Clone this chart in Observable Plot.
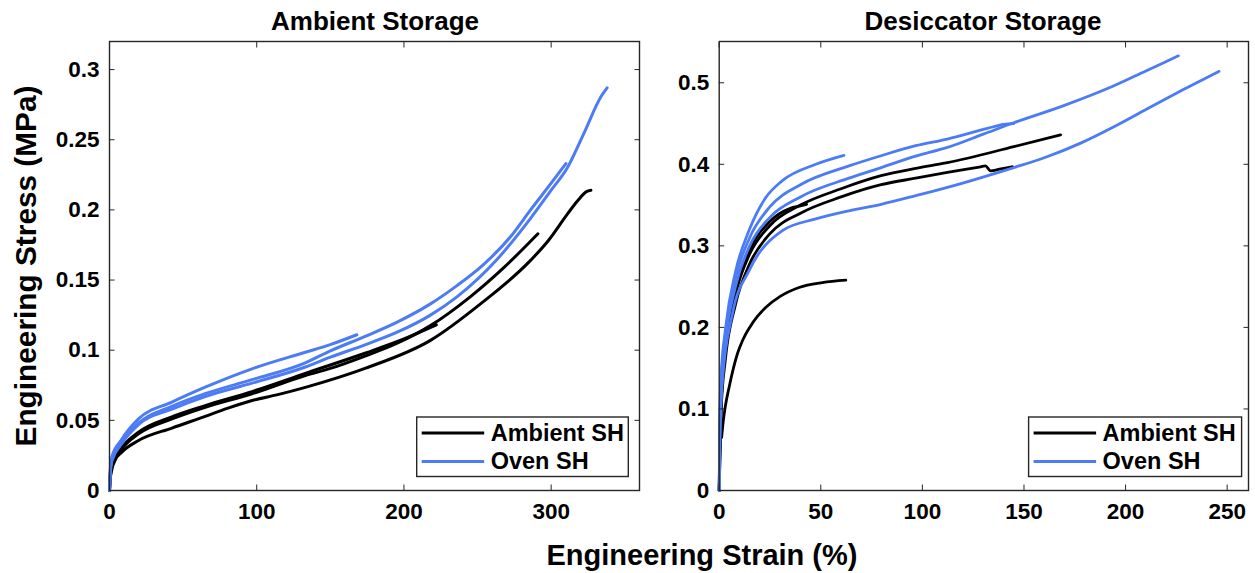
<!DOCTYPE html>
<html><head><meta charset="utf-8">
<script src="https://cdn.jsdelivr.net/npm/d3@7"></script>
<script src="https://cdn.jsdelivr.net/npm/@observablehq/plot@0.6"></script>
<style>
body{margin:0;background:#fff;}
#wrap{position:relative;width:1255px;height:573px;overflow:hidden;font-family:"Liberation Sans",Arial,sans-serif;}
#left{position:absolute;left:0;top:0;}
#right{position:absolute;left:640px;top:0;}
#overlay{position:absolute;left:0;top:0;}
</style></head><body>
<div id="wrap"><div id="left"></div><div id="right"></div><svg id="overlay" width="1255" height="573"></svg></div>
<script>
// ---------- DATA (strain %, stress MPa) ----------
const seriesNames = ["Ambient SH", "Oven SH"];
const seriesColors = ["#000000", "#4b7bf5"];
const panelTitles = ["Ambient Storage", "Desiccator Storage"];
const xTitle = "Engineering Strain (%)";
const yTitle = "Engineering Stress (MPa)";

// Ambient storage panel
const ambTicksX = [0, 100, 200, 300];
const ambTicksY = [0, 0.05, 0.1, 0.15, 0.2, 0.25, 0.3];
const ambBlack1 = [[0,0],[0.4,0.007],[1.6,0.015],[4,0.022],[8,0.027],[19.7,0.0356],[42.4,0.0445],[65,0.0528],[80,0.0585],[96.8,0.0641],[115,0.0685],[133,0.0735],[174,0.0872],[218,0.107],[252,0.133],[286,0.164],[298,0.178],[311,0.197],[318,0.2065],[324,0.213],[327,0.214]];
const ambBlack2 = [[0,0],[0.4,0.008],[1.6,0.017],[8,0.029],[19.7,0.0404],[42.4,0.051],[65,0.0593],[96.8,0.0689],[133,0.0819],[150,0.087],[174,0.096],[195.4,0.105],[218,0.1175],[245,0.138],[268,0.159],[291,0.183]];
const ambBlack3 = [[0,0],[0.4,0.009],[1.6,0.018],[8,0.030],[19.7,0.0415],[42.4,0.0525],[65,0.0605],[96.8,0.0705],[133,0.0835],[174,0.098],[200,0.108],[222,0.118]];
const ambBlue1 = [[0,0],[0.4,0.010],[1.6,0.021],[8,0.033],[19.7,0.047],[42.4,0.058],[65,0.067],[96.8,0.0765],[133,0.088],[150,0.095],[174,0.104],[195.4,0.1128],[218,0.125],[236,0.138],[263.5,0.165],[286,0.194],[300,0.214],[311,0.230],[322,0.254],[334,0.281],[338,0.287]];
const ambBlue2 = [[0,0],[0.4,0.011],[1.6,0.022],[8,0.034],[19.7,0.048],[42.4,0.060],[65,0.069],[96.8,0.079],[133,0.091],[150,0.0995],[174,0.110],[195.4,0.120],[218,0.133],[236,0.146],[254,0.161],[272.5,0.181],[286,0.200],[300,0.219],[310,0.233]];
const ambBlue3 = [[0,0],[0.4,0.012],[1.6,0.024],[8,0.036],[19.7,0.051],[42.4,0.063],[65,0.0736],[96.8,0.0867],[133,0.0985],[150,0.104],[168,0.111]];

// Desiccator storage panel
const desTicksX = [0, 50, 100, 150, 200, 250];
const desTicksY = [0, 0.1, 0.2, 0.3, 0.4, 0.5];
const desBlack1 = [[0,0],[0.3,0.06],[1,0.11],[3,0.17],[8,0.24],[15,0.29],[25,0.325],[40,0.350],[60,0.370],[79.7,0.386],[96.7,0.395],[112.3,0.402],[145,0.4216],[168,0.436]];
const desBlack2 = [[0,0],[1,0.10],[3,0.16],[8,0.228],[15,0.278],[25,0.315],[40,0.340],[60,0.360],[79.7,0.375],[96.7,0.383],[112.3,0.390],[128.7,0.397],[131,0.398],[133.6,0.392],[138,0.394],[144.3,0.397]];
const desBlack3 = [[0,0],[1,0.11],[3,0.175],[8,0.245],[15,0.295],[25,0.33],[35,0.346],[40,0.349],[43,0.351]];
const desBlack4 = [[1.2,0.065],[2,0.085],[3,0.103],[4.9,0.127],[7,0.150],[9,0.168],[11.5,0.184],[15,0.200],[19,0.214],[23,0.2246],[30,0.238],[39.3,0.249],[50.8,0.255],[62.3,0.258]];
const desBlue1 = [[0,0],[0.3,0.09],[0.8,0.135],[3.2,0.20],[8.2,0.27],[14.7,0.319],[23,0.3595],[31.1,0.380],[47.5,0.400],[61.4,0.411]];
const desBlue2 = [[0,0],[0.3,0.08],[1,0.13],[3,0.19],[8,0.26],[15,0.31],[25,0.348],[40,0.375],[63.9,0.398],[79.7,0.4105],[96.7,0.4228],[112.3,0.431],[132,0.444],[140,0.449],[145,0.450]];
const desBlue3 = [[0,0],[0.3,0.07],[1,0.12],[3,0.18],[8,0.25],[15,0.30],[25,0.335],[40,0.36],[63.9,0.383],[79.7,0.396],[96.7,0.41],[112.3,0.4207],[130,0.437],[145,0.451],[169.6,0.472],[194,0.496],[210,0.5145],[226,0.533]];
const desBlue4 = [[0,0],[0.3,0.06],[1.6,0.135],[6.5,0.2165],[14.7,0.2696],[31.1,0.3186],[47.5,0.333],[63.9,0.343],[79.7,0.351],[96.7,0.3615],[112.3,0.3717],[145,0.396],[160,0.408],[177.9,0.426],[195,0.447],[210.7,0.468],[228,0.491],[246,0.514]];

// ---------- BUILD ----------
function toRows(curves) {
  return curves.flatMap(([id, group, pts]) => pts.map(([x, y]) => ({strain: x, stress: y, id, group})));
}
const FONT = "'Liberation Sans', Arial, sans-serif";
const AX = "#262626";

function panel({rows, xDomain, yDomain, xTicks, yTicks, width, marginLeft, marginRight, sw}) {
  return Plot.plot({
    width, height: 573, marginLeft, marginRight, marginTop: 41, marginBottom: 83,
    x: {domain: xDomain, label: null},
    y: {domain: yDomain, label: null},
    color: {domain: seriesNames, range: seriesColors},
    style: {fontFamily: FONT, fontSize: "22.5px", fontWeight: "bold", color: "#000", background: "transparent", overflow: "visible"},
    marks: [
      Plot.line(rows.filter(d => d.group === seriesNames[0]), {x: "strain", y: "stress", z: "id", stroke: "group", strokeWidth: sw, curve: "monotone-x"}),
      Plot.line(rows.filter(d => d.group === seriesNames[1]), {x: "strain", y: "stress", z: "id", stroke: "group", strokeWidth: sw, curve: "monotone-x"}),
      Plot.frame({stroke: AX, strokeWidth: 1.4}),
      Plot.axisX({anchor: "bottom", ticks: xTicks, tickSize: -5.5, tickPadding: 18.5, tickFormat: d => String(d), label: null, stroke: AX, fill: "#000"}),
      Plot.axisX({anchor: "top", ticks: xTicks, tickSize: -5.5, tickFormat: () => null, label: null, stroke: AX}),
      Plot.axisY({anchor: "left", ticks: yTicks, tickSize: -5.5, tickPadding: 15.5, tickFormat: d => String(d), label: null, stroke: AX, fill: "#000"}),
      Plot.axisY({anchor: "right", ticks: yTicks, tickSize: -5.5, tickFormat: () => null, label: null, stroke: AX})
    ]
  });
}

const ambRows = toRows([
  ["a-b1", seriesNames[0], ambBlack1], ["a-b2", seriesNames[0], ambBlack2], ["a-b3", seriesNames[0], ambBlack3],
  ["a-o1", seriesNames[1], ambBlue1], ["a-o2", seriesNames[1], ambBlue2], ["a-o3", seriesNames[1], ambBlue3]
]);
const desRows = toRows([
  ["d-b1", seriesNames[0], desBlack1], ["d-b2", seriesNames[0], desBlack2], ["d-b3", seriesNames[0], desBlack3], ["d-b4", seriesNames[0], desBlack4],
  ["d-o1", seriesNames[1], desBlue1], ["d-o2", seriesNames[1], desBlue2], ["d-o3", seriesNames[1], desBlue3], ["d-o4", seriesNames[1], desBlue4]
]);

document.getElementById("left").append(panel({rows: ambRows, xDomain: [0, 360], yDomain: [0, 0.32], xTicks: ambTicksX, yTicks: ambTicksY, width: 660, marginLeft: 109, marginRight: 21, sw: 3}));
document.getElementById("right").append(panel({rows: desRows, xDomain: [0, 260.5], yDomain: [0, 0.5506], xTicks: desTicksX, yTicks: desTicksY, width: 615, marginLeft: 78.7, marginRight: 7, sw: 2.8}));

// ---------- overlay texts & legends ----------
const ov = d3.select("#overlay").attr("font-family", FONT).attr("font-weight", "bold");
ov.append("text").attr("x", 375).attr("y", 29.5).attr("text-anchor", "middle").attr("font-size", 26).text(panelTitles[0]);
ov.append("text").attr("x", 983).attr("y", 29.5).attr("text-anchor", "middle").attr("font-size", 26).text(panelTitles[1]);
ov.append("text").attr("transform", "translate(35.5,266) rotate(-90)").attr("text-anchor", "middle").attr("font-size", 29.8).text(yTitle);
ov.append("text").attr("x", 702).attr("y", 565).attr("text-anchor", "middle").attr("font-size", 29).text(xTitle);

function legend(x0, y0, w, h) {
  const g = ov.append("g");
  g.append("rect").attr("x", x0).attr("y", y0).attr("width", w).attr("height", h).attr("fill", "#fff").attr("stroke", AX).attr("stroke-width", 1.4);
  seriesNames.forEach((name, i) => {
    const cy = y0 + 16 + i * 28.5;
    g.append("line").attr("x1", x0 + 5).attr("x2", x0 + 67.5).attr("y1", cy).attr("y2", cy).attr("stroke", seriesColors[i]).attr("stroke-width", 3);
    g.append("text").attr("x", x0 + 74).attr("y", cy + 7.5).attr("font-size", 23.5).attr("fill", "#000").text(name);
  });
}
legend(416.7, 417, 211.6, 59.5);
legend(1028.6, 417, 213, 59.5);
</script>
</body></html>
